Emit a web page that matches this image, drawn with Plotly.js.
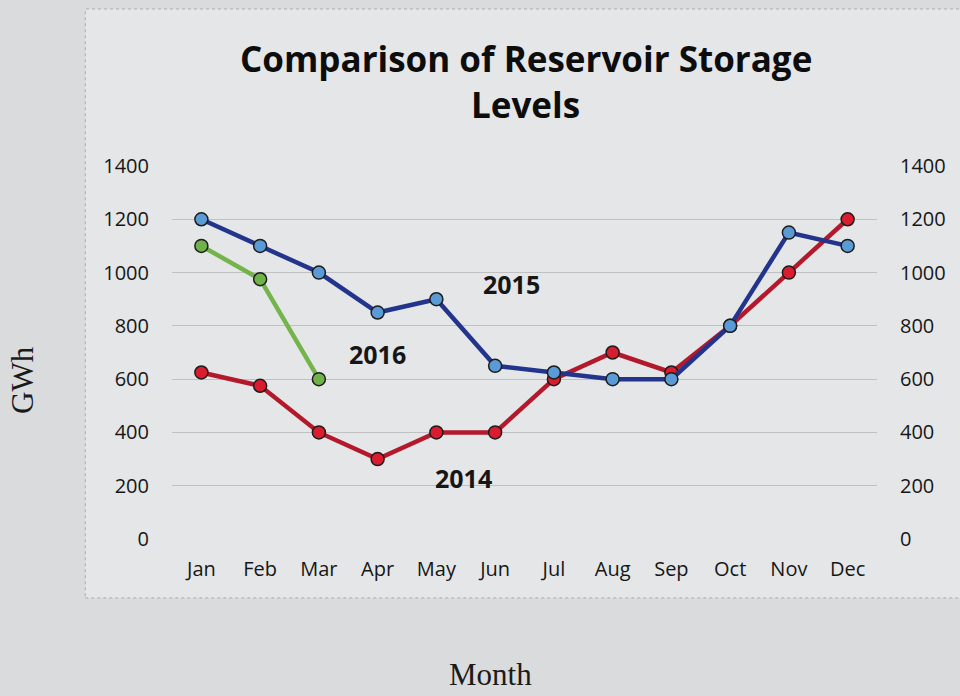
<!DOCTYPE html>
<html>
<head>
<meta charset="utf-8">
<script src="https://cdn.plot.ly/plotly-3.0.1.min.js"></script>
<style>
  body { margin: 0; background: #d9dbdd; }
  #plot { width: 960px; height: 696px; }
</style>
</head>
<body>
<div id="plot"></div>
<script>
// months on the x axis
const months = ["Jan", "Feb", "Mar", "Apr", "May", "Jun", "Jul", "Aug", "Sep", "Oct", "Nov", "Dec"];

// storage in GWh
const y2014 = [625, 575, 400, 300, 400, 400, 600, 700, 625, 800, 1000, 1200];
const y2015 = [1200, 1100, 1000, 850, 900, 650, 625, 600, 600, 800, 1150, 1100];
const y2016 = [1100, 975, 600];

const yTicks = [0, 200, 400, 600, 800, 1000, 1200, 1400];

const tickFont = {family: "Open Sans, sans-serif", size: 20, color: "#161616"};
const labelFont = {family: "Open Sans, sans-serif", size: 25, color: "#161616", weight: "bold"};
const titleFont = {family: "Open Sans, sans-serif", size: 35, color: "#0d0d0d", weight: "bold"};
const serifFont = {family: "Liberation Serif, serif", size: 31, color: "#1a1a1a"};

function series(y, lineColor, fillColor) {
  return {
    x: months.slice(0, y.length),
    y: y,
    type: "scatter",
    mode: "lines+markers",
    line: {color: lineColor, width: 4.5},
    marker: {size: 13, color: fillColor, line: {color: "#1c1c1c", width: 1.5}},
    showlegend: false,
    hoverinfo: "x+y"
  };
}

let trace2014 = series(y2014, "#b3182b", "#db1b2e");
let trace2015 = series(y2015, "#22348c", "#5b9bd5");
let trace2016 = series(y2016, "#74b44a", "#6fb24a");

// invisible copy so the right-hand axis gets drawn
let mirror = {
  x: months, y: y2014, yaxis: "y2", type: "scatter", mode: "lines",
  opacity: 0, showlegend: false, hoverinfo: "skip"
};

// text placed on the paper, always centred
function note(x, y, text, font, angle) {
  return {x: x, y: y, xref: "paper", yref: "paper", text: text, showarrow: false,
          xanchor: "center", yanchor: "middle", textangle: angle || 0, font: font};
}

let layout = {
  width: 960,
  height: 696,
  paper_bgcolor: "#d9dbdd",
  plot_bgcolor: "rgba(0,0,0,0)",
  margin: {l: 172, r: 83, t: 166, b: 157},
  xaxis: {
    type: "category",
    range: [-0.5, 11.5],
    tickfont: tickFont,
    ticklabelstandoff: 16,
    showgrid: false,
    zeroline: false,
    showline: false,
    ticks: ""
  },
  yaxis: {
    range: [0, 1400],
    tickvals: yTicks,
    tickfont: tickFont,
    ticklabelstandoff: 22,
    gridcolor: "#bfc1c3",
    gridwidth: 1,
    zeroline: false,
    showline: false,
    ticks: ""
  },
  yaxis2: {
    overlaying: "y",
    side: "right",
    range: [0, 1400],
    tickvals: yTicks,
    tickfont: tickFont,
    ticklabelstandoff: 22,
    showgrid: false,
    zeroline: false,
    showline: false,
    ticks: ""
  },
  shapes: [{
    type: "rect", xref: "paper", yref: "paper", layer: "below",
    x0: -0.123, x1: 1.13, y0: -0.158, y1: 1.421,
    fillcolor: "#e4e6e8",
    line: {color: "#a9abad", width: 1, dash: "dot"}
  }],
  annotations: [
    note(0.502, 1.287, "Comparison of Reservoir Storage", titleFont),
    note(0.502, 1.166, "Levels", titleFont),
    {x: 5.28, y: 957, xref: "x", yref: "y", text: "2015", showarrow: false, font: labelFont},
    {x: 3.0, y: 694, xref: "x", yref: "y", text: "2016", showarrow: false, font: labelFont},
    {x: 4.46, y: 229, xref: "x", yref: "y", text: "2014", showarrow: false, font: labelFont},
    note(-0.213, 0.426, "GWh", serifFont, -90),
    note(0.452, -0.362, "Month", serifFont)
  ]
};

Plotly.newPlot("plot", [mirror, trace2014, trace2015, trace2016], layout, {displayModeBar: false});
</script>
</body>
</html>
